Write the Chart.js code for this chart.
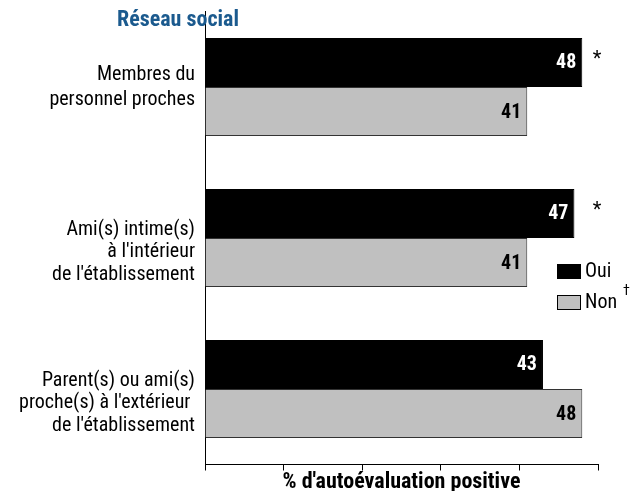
<!DOCTYPE html>
<html>
<head>
<meta charset="utf-8">
<script src="https://cdn.jsdelivr.net/npm/chart.js@4/dist/chart.umd.min.js"></script>
<style>
html,body{margin:0;padding:0;background:#fff;}
#wrap{width:638px;height:491px;position:relative;}
</style>
</head>
<body>
<div id="wrap"><canvas id="c" width="638" height="491"></canvas></div>
<script>
const categories = [
  ["Membres du", "personnel proches"],
  ["Ami(s) intime(s)", "à l'intérieur", "de l'établissement"],
  ["Parent(s) ou ami(s)", "proche(s) à l'extérieur ", "de l'établissement"]
];
const seriesNames = ["Oui", "Non"];
const ouiValues = [48, 47, 43];
const nonValues = [41, 41, 48];
const ouiMarks = ["*", "*", ""];
const xTicks = [0, 10, 20, 30, 40, 50];
const chartTitle = "Réseau social";
const axisTitle = "% d'autoévaluation positive";
const legendNote = "†";

const FONT = "'Roboto Condensed', 'Liberation Sans Narrow', sans-serif";

const overlay = {
  id: 'overlay',
  afterDatasetsDraw(chart) {
    const ctx = chart.ctx;
    const area = chart.chartArea;
    const yScale = chart.scales.y;
    ctx.save();
    // category labels
    ctx.font = "20px " + FONT;
    ctx.fillStyle = '#000';
    ctx.textAlign = 'right';
    ctx.textBaseline = 'middle';
    categories.forEach((lines, i) => {
      const cy = yScale.getPixelForValue(i);
      const lh = lines.length === 2 ? 25 : 22.5;
      const shift = lines.length === 2 ? 0 : 14;
      const y0 = cy + shift - (lines.length - 1) * lh / 2;
      lines.forEach((t, k) => ctx.fillText(t, 195, y0 + k * lh));
    });
    // value labels
    chart.data.datasets.forEach((ds, di) => {
      const meta = chart.getDatasetMeta(di);
      meta.data.forEach((bar, i) => {
        ctx.font = "bold 20px " + FONT;
        ctx.fillStyle = di === 0 ? '#ffffff' : '#000000';
        ctx.textAlign = 'right';
        ctx.textBaseline = 'middle';
        ctx.fillText(String(ds.data[i]), bar.x - 6, bar.y + 1);
        if (di === 0 && ouiMarks[i]) {
          ctx.font = "20px " + FONT;
          ctx.fillStyle = '#000';
          ctx.textAlign = 'center';
          ctx.fillText(ouiMarks[i], 597, bar.y - 2);
        }
      });
    });
    // title
    ctx.font = "bold 22px " + FONT;
    ctx.fillStyle = '#1b5a8e';
    ctx.textAlign = 'left';
    ctx.textBaseline = 'middle';
    ctx.fillText(chartTitle, 117, 20);
    // axis title
    ctx.font = "bold 22px " + FONT;
    ctx.fillStyle = '#000';
    ctx.textAlign = 'center';
    ctx.fillText(axisTitle, (area.left + area.right) / 2, 482);
    // legend
    const ly = [272, 303];
    chart.data.datasets.forEach((ds, di) => {
      ctx.fillStyle = ds.backgroundColor;
      ctx.fillRect(557.5, ly[di] - 7.5, 23, 14);
      ctx.strokeStyle = '#000';
      ctx.lineWidth = 1;
      ctx.strokeRect(557.5, ly[di] - 7.5, 23, 14);
      ctx.fillStyle = '#000';
      ctx.font = "20px " + FONT;
      ctx.textAlign = 'left';
      ctx.fillText(ds.label, 585, ly[di]);
    });
    ctx.font = "20px " + FONT;
    const nw = ctx.measureText(seriesNames[1]).width;
    ctx.font = "14px " + FONT;
    ctx.fillText(legendNote, 585 + nw + 6, 291);
    ctx.restore();
  }
};

new Chart(document.getElementById('c'), {
  type: 'bar',
  data: {
    labels: categories,
    datasets: [
      { label: seriesNames[0], data: ouiValues, backgroundColor: '#000000', borderColor: '#000000', borderWidth: 1 },
      { label: seriesNames[1], data: nonValues, backgroundColor: '#c0c0c0', borderColor: '#333333', borderWidth: 1 }
    ]
  },
  options: {
    indexAxis: 'y',
    responsive: false,
    animation: false,
    layout: { padding: { top: 11.5, right: 40, left: 0, bottom: 0 } },
    datasets: { bar: { categoryPercentage: 0.65, barPercentage: 1.0 } },
    plugins: { legend: { display: false }, tooltip: { enabled: false } },
    scales: {
      x: {
        min: 0, max: 50,
        afterBuildTicks(axis) { axis.ticks = xTicks.map(v => ({ value: v })); },
        ticks: { callback: () => '', font: { size: 1 } },
        grid: { drawOnChartArea: false, drawTicks: true, tickLength: 6, color: '#000', lineWidth: 1 },
        border: { display: true, color: '#000', width: 1 },
        afterFit(axis) { axis.height = 26.5; axis.paddingLeft = 0; axis.paddingRight = 0; }
      },
      y: {
        grid: { display: false },
        border: { display: true, color: '#000', width: 1 },
        ticks: { callback: () => '', font: { size: 1 }, padding: 0 },
        afterFit(axis) { axis.width = 205; axis.paddingTop = 0; axis.paddingBottom = 0; }
      }
    }
  },
  plugins: [overlay]
});
</script>
</body>
</html>
